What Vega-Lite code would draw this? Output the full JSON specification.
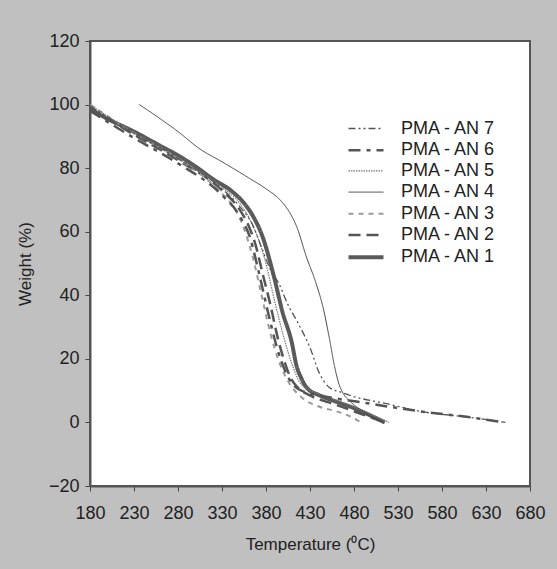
{
  "$schema": "https://vega.github.io/schema/vega-lite/v6.json",
  "width": 440,
  "height": 445,
  "autosize": {"type": "none"},
  "padding": {"left": 90, "top": 41, "right": 27, "bottom": 83},
  "background": "#c0c0c0",
  "config": {
    "view": {"fill": "white", "stroke": "#555555", "strokeWidth": 2},
    "font": "Liberation Sans",
    "axis": {
      "grid": false,
      "domainColor": "#555555",
      "domainWidth": 2,
      "tickColor": "#444444",
      "tickSize": 5,
      "labelFont": "Liberation Sans",
      "labelFontSize": 18,
      "labelColor": "#222222",
      "labelOverlap": false,
      "labelFlush": false,
      "titleFont": "Liberation Sans",
      "titleFontSize": 17,
      "titleFontWeight": "normal",
      "titleColor": "#222222"
    },
    "legend": {
      "labelFont": "Liberation Sans", "labelFontSize": 18, "labelColor": "#222222",
      "symbolType": "M-2,0H2", "symbolSize": 306, "symbolFillColor": "transparent", "labelOffset": 24, "rowPadding": 2.2
    }
  },
  "data": {
    "values": [
      {"s": "PMA - AN 1", "t": 180, "w": 98.5},
      {"s": "PMA - AN 1", "t": 200, "w": 95.5},
      {"s": "PMA - AN 1", "t": 230, "w": 91.5},
      {"s": "PMA - AN 1", "t": 260, "w": 87},
      {"s": "PMA - AN 1", "t": 280, "w": 84},
      {"s": "PMA - AN 1", "t": 300, "w": 80.5},
      {"s": "PMA - AN 1", "t": 320, "w": 76.5},
      {"s": "PMA - AN 1", "t": 340, "w": 73},
      {"s": "PMA - AN 1", "t": 355, "w": 69},
      {"s": "PMA - AN 1", "t": 365, "w": 65},
      {"s": "PMA - AN 1", "t": 376, "w": 58.5},
      {"s": "PMA - AN 1", "t": 388, "w": 47},
      {"s": "PMA - AN 1", "t": 399, "w": 34.5},
      {"s": "PMA - AN 1", "t": 409, "w": 25.5},
      {"s": "PMA - AN 1", "t": 415, "w": 17.5},
      {"s": "PMA - AN 1", "t": 420, "w": 14},
      {"s": "PMA - AN 1", "t": 426, "w": 11},
      {"s": "PMA - AN 1", "t": 441, "w": 8.5},
      {"s": "PMA - AN 1", "t": 460, "w": 6.5},
      {"s": "PMA - AN 1", "t": 480, "w": 4.5},
      {"s": "PMA - AN 1", "t": 500, "w": 2},
      {"s": "PMA - AN 1", "t": 515, "w": 0},

      {"s": "PMA - AN 2", "t": 180, "w": 99},
      {"s": "PMA - AN 2", "t": 230, "w": 90.5},
      {"s": "PMA - AN 2", "t": 280, "w": 82.5},
      {"s": "PMA - AN 2", "t": 330, "w": 73},
      {"s": "PMA - AN 2", "t": 350, "w": 67},
      {"s": "PMA - AN 2", "t": 360, "w": 62},
      {"s": "PMA - AN 2", "t": 368, "w": 56},
      {"s": "PMA - AN 2", "t": 376, "w": 47},
      {"s": "PMA - AN 2", "t": 385, "w": 37},
      {"s": "PMA - AN 2", "t": 393, "w": 27},
      {"s": "PMA - AN 2", "t": 400, "w": 20},
      {"s": "PMA - AN 2", "t": 408, "w": 14},
      {"s": "PMA - AN 2", "t": 416, "w": 11},
      {"s": "PMA - AN 2", "t": 430, "w": 8.5},
      {"s": "PMA - AN 2", "t": 460, "w": 5.5},
      {"s": "PMA - AN 2", "t": 490, "w": 2.5},
      {"s": "PMA - AN 2", "t": 510, "w": 0.5},

      {"s": "PMA - AN 3", "t": 180, "w": 100},
      {"s": "PMA - AN 3", "t": 230, "w": 91},
      {"s": "PMA - AN 3", "t": 280, "w": 83},
      {"s": "PMA - AN 3", "t": 330, "w": 72},
      {"s": "PMA - AN 3", "t": 345, "w": 67},
      {"s": "PMA - AN 3", "t": 355, "w": 61},
      {"s": "PMA - AN 3", "t": 365, "w": 52},
      {"s": "PMA - AN 3", "t": 375, "w": 40},
      {"s": "PMA - AN 3", "t": 385, "w": 28},
      {"s": "PMA - AN 3", "t": 395, "w": 19},
      {"s": "PMA - AN 3", "t": 405, "w": 13},
      {"s": "PMA - AN 3", "t": 420, "w": 8},
      {"s": "PMA - AN 3", "t": 440, "w": 5},
      {"s": "PMA - AN 3", "t": 460, "w": 3.5},
      {"s": "PMA - AN 3", "t": 475, "w": 2},
      {"s": "PMA - AN 3", "t": 488, "w": 0},

      {"s": "PMA - AN 4", "t": 236, "w": 100},
      {"s": "PMA - AN 4", "t": 260, "w": 95.5},
      {"s": "PMA - AN 4", "t": 280, "w": 91.5},
      {"s": "PMA - AN 4", "t": 305, "w": 86},
      {"s": "PMA - AN 4", "t": 330, "w": 82},
      {"s": "PMA - AN 4", "t": 360, "w": 77},
      {"s": "PMA - AN 4", "t": 380, "w": 73.5},
      {"s": "PMA - AN 4", "t": 396, "w": 70},
      {"s": "PMA - AN 4", "t": 407, "w": 66},
      {"s": "PMA - AN 4", "t": 415, "w": 61.5},
      {"s": "PMA - AN 4", "t": 426, "w": 52},
      {"s": "PMA - AN 4", "t": 436, "w": 44.5},
      {"s": "PMA - AN 4", "t": 445, "w": 36},
      {"s": "PMA - AN 4", "t": 452, "w": 26.5},
      {"s": "PMA - AN 4", "t": 458, "w": 17.5},
      {"s": "PMA - AN 4", "t": 463, "w": 12},
      {"s": "PMA - AN 4", "t": 468, "w": 9},
      {"s": "PMA - AN 4", "t": 476, "w": 6.5},
      {"s": "PMA - AN 4", "t": 490, "w": 3.5},
      {"s": "PMA - AN 4", "t": 513, "w": 0},

      {"s": "PMA - AN 5", "t": 180, "w": 100},
      {"s": "PMA - AN 5", "t": 230, "w": 91},
      {"s": "PMA - AN 5", "t": 280, "w": 83},
      {"s": "PMA - AN 5", "t": 330, "w": 74},
      {"s": "PMA - AN 5", "t": 350, "w": 69},
      {"s": "PMA - AN 5", "t": 365, "w": 62},
      {"s": "PMA - AN 5", "t": 378, "w": 52},
      {"s": "PMA - AN 5", "t": 390, "w": 38},
      {"s": "PMA - AN 5", "t": 400, "w": 27},
      {"s": "PMA - AN 5", "t": 410, "w": 18},
      {"s": "PMA - AN 5", "t": 420, "w": 12},
      {"s": "PMA - AN 5", "t": 440, "w": 9},
      {"s": "PMA - AN 5", "t": 470, "w": 6},
      {"s": "PMA - AN 5", "t": 500, "w": 2.5},
      {"s": "PMA - AN 5", "t": 520, "w": 0},

      {"s": "PMA - AN 6", "t": 180, "w": 98},
      {"s": "PMA - AN 6", "t": 230, "w": 89.5},
      {"s": "PMA - AN 6", "t": 280, "w": 81.5},
      {"s": "PMA - AN 6", "t": 330, "w": 71.5},
      {"s": "PMA - AN 6", "t": 350, "w": 65},
      {"s": "PMA - AN 6", "t": 362, "w": 58},
      {"s": "PMA - AN 6", "t": 372, "w": 47},
      {"s": "PMA - AN 6", "t": 382, "w": 35},
      {"s": "PMA - AN 6", "t": 392, "w": 24},
      {"s": "PMA - AN 6", "t": 402, "w": 16},
      {"s": "PMA - AN 6", "t": 412, "w": 11.5},
      {"s": "PMA - AN 6", "t": 425, "w": 9.5},
      {"s": "PMA - AN 6", "t": 441, "w": 8.5},
      {"s": "PMA - AN 6", "t": 460, "w": 7.5},
      {"s": "PMA - AN 6", "t": 487, "w": 6.4},
      {"s": "PMA - AN 6", "t": 528, "w": 4.6},
      {"s": "PMA - AN 6", "t": 555, "w": 3.5},
      {"s": "PMA - AN 6", "t": 612, "w": 1.6},
      {"s": "PMA - AN 6", "t": 650, "w": 0},

      {"s": "PMA - AN 7", "t": 180, "w": 99.5},
      {"s": "PMA - AN 7", "t": 230, "w": 91},
      {"s": "PMA - AN 7", "t": 280, "w": 83},
      {"s": "PMA - AN 7", "t": 330, "w": 73.5},
      {"s": "PMA - AN 7", "t": 350, "w": 68},
      {"s": "PMA - AN 7", "t": 365, "w": 62},
      {"s": "PMA - AN 7", "t": 375, "w": 55},
      {"s": "PMA - AN 7", "t": 385, "w": 48},
      {"s": "PMA - AN 7", "t": 395, "w": 43.5},
      {"s": "PMA - AN 7", "t": 405, "w": 37},
      {"s": "PMA - AN 7", "t": 415, "w": 32},
      {"s": "PMA - AN 7", "t": 430, "w": 23.5},
      {"s": "PMA - AN 7", "t": 441, "w": 15.3},
      {"s": "PMA - AN 7", "t": 452, "w": 11},
      {"s": "PMA - AN 7", "t": 465, "w": 9.5},
      {"s": "PMA - AN 7", "t": 479, "w": 8.2},
      {"s": "PMA - AN 7", "t": 517, "w": 5.9},
      {"s": "PMA - AN 7", "t": 555, "w": 3.5},
      {"s": "PMA - AN 7", "t": 612, "w": 1.6},
      {"s": "PMA - AN 7", "t": 652, "w": 0}
    ]
  },
  "mark": {"type": "line", "interpolate": "monotone"},
  "encoding": {
    "x": {
      "field": "t", "type": "quantitative",
      "scale": {"domain": [180, 680], "nice": false, "zero": false},
      "axis": {"values": [180, 230, 280, 330, 380, 430, 480, 530, 580, 630, 680], "title": "Temperature (⁰C)", "labelPadding": 13, "titlePadding": 14}
    },
    "y": {
      "field": "w", "type": "quantitative",
      "scale": {"domain": [-20, 120], "nice": false, "zero": false},
      "axis": {"values": [-20, 0, 20, 40, 60, 80, 100, 120], "title": "Weight (%)", "labelPadding": 6, "titlePadding": 14}
    },
    "color": {
      "field": "s", "type": "nominal",
      "scale": {
        "domain": ["PMA - AN 7", "PMA - AN 6", "PMA - AN 5", "PMA - AN 4", "PMA - AN 3", "PMA - AN 2", "PMA - AN 1"],
        "range": ["#555555", "#555555", "#777777", "#444444", "#9a9a9a", "#555555", "#5a5a5a"]
      },
      "legend": {"title": null, "orient": "none", "legendX": 265, "legendY": 78}
    },
    "strokeDash": {
      "field": "s", "type": "nominal",
      "scale": {
        "domain": ["PMA - AN 7", "PMA - AN 6", "PMA - AN 5", "PMA - AN 4", "PMA - AN 3", "PMA - AN 2", "PMA - AN 1"],
        "range": [[7, 3, 2, 3, 2, 3], [12, 6, 4, 6], [1.5, 1], [1, 0], [5, 5], [12, 6], [1, 0]]
      },
      "legend": {"title": null, "orient": "none", "legendX": 265, "legendY": 78}
    },
    "strokeWidth": {
      "field": "s", "type": "nominal",
      "scale": {
        "type": "ordinal",
        "domain": ["PMA - AN 7", "PMA - AN 6", "PMA - AN 5", "PMA - AN 4", "PMA - AN 3", "PMA - AN 2", "PMA - AN 1"],
        "range": [1.3, 2.5, 1.2, 1, 2, 2.5, 4]
      },
      "legend": {"title": null, "orient": "none", "legendX": 265, "legendY": 78}
    }
  }
}
